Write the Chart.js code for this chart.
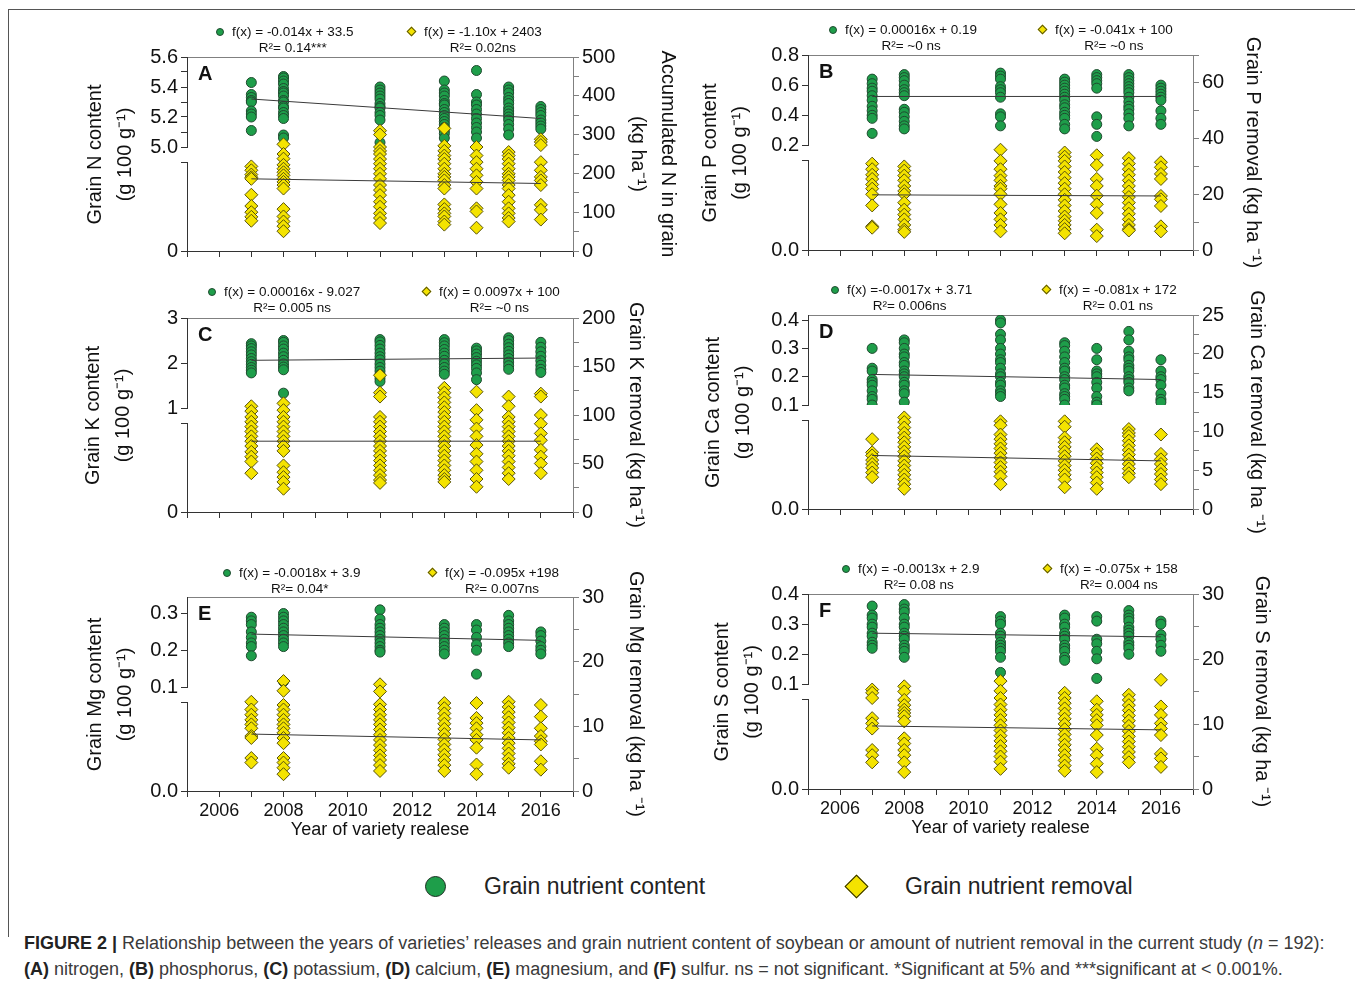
<!DOCTYPE html>
<html>
<head>
<meta charset="utf-8">
<script src="https://cdn.jsdelivr.net/npm/chart.js@4.4.1/dist/chart.umd.min.js"></script>
<style>
  body { margin: 0; background: #fff; width: 1355px; height: 988px; position: relative; overflow: hidden;
         font-family: "Liberation Sans", Arial, sans-serif; color: #111; }
  #frame { position: absolute; left: 8px; top: 9px; width: 1400px; height: 927px;
           border-top: 1px solid #555; border-left: 1px solid #555; }
  canvas { position: absolute; }
  .eq { position: absolute; font-size: 13.5px; line-height: 16px; white-space: nowrap; }
  .eq .txt { margin-left: 17px; text-align: center; }
  .eq .dot { position: absolute; left: 1px; top: 4px; width: 8px; height: 8px; border-radius: 50%;
             background: #1e9e4a; border: 1px solid #204a30; box-sizing: border-box; }
  .eq .dia { position: absolute; left: 1px; top: 4px; width: 7px; height: 7px; transform: rotate(45deg);
             background: #f4e300; border: 1px solid #57520a; box-sizing: border-box; }
  .letter { position: absolute; font-weight: bold; font-size: 20px; line-height: 24px; }
  #lgDot { position: absolute; left: 425px; top: 876px; width: 21px; height: 21px; border-radius: 50%;
           background: #1e9e4a; border: 1.5px solid #1c2e22; box-sizing: border-box; }
  #lgDia { position: absolute; left: 848px; top: 878px; width: 17px; height: 17px; transform: rotate(45deg);
           background: #f4e300; border: 1.5px solid #2b2900; box-sizing: border-box; }
  .lgText { position: absolute; font-size: 23px; line-height: 28px; color: #222; }
  #caption { position: absolute; left: 24px; top: 930px; width: 1325px; font-size: 18px; line-height: 26px;
             color: #3a3a3a; white-space: nowrap; }
  #caption b { color: #222; }
</style>
</head>
<body>
<div id="frame"></div>

<script>
// release years of the varieties
const years = [2007, 2008, 2011, 2013, 2014, 2015, 2016]
const trendYears = [2007, 2016]

// A: nitrogen
const nContent = [
    [5.43, 5.35, 5.33, 5.31, 5.30, 5.24, 5.22, 5.20, 5.11],
    [5.47, 5.46, 5.44, 5.42, 5.39, 5.37, 5.36, 5.34, 5.31, 5.30, 5.27, 5.26, 5.23, 5.21, 5.19, 5.08, 5.06],
    [5.40, 5.38, 5.36, 5.34, 5.32, 5.29, 5.27, 5.26, 5.23, 5.21, 5.18, 5.03],
    [5.44, 5.38, 5.36, 5.34, 5.31, 5.29, 5.28, 5.25, 5.23, 5.21, 5.19, 5.17, 5.15, 5.13, 5.11, 5.09, 5.06],
    [5.51, 5.35, 5.30, 5.28, 5.25, 5.22, 5.19, 5.16, 5.13, 5.10, 5.06],
    [5.40, 5.38, 5.36, 5.33, 5.31, 5.29, 5.26, 5.24, 5.22, 5.20, 5.18, 5.15, 5.12, 5.08],
    [5.27, 5.25, 5.23, 5.21, 5.18, 5.16, 5.14, 5.12],
]
const nRemoval = [
    [218, 208, 197, 190, 186, 145, 116, 100, 88, 78],
    [275, 250, 238, 222, 212, 203, 195, 186, 178, 170, 161, 108, 89, 76, 64, 51],
    [310, 300, 268, 258, 250, 237, 225, 212, 199, 186, 170, 157, 144, 127, 114, 97, 85, 72],
    [316, 271, 258, 246, 237, 225, 212, 199, 191, 182, 170, 161, 120, 108, 97, 89, 76, 68],
    [268, 246, 229, 212, 195, 178, 161, 110, 102, 60],
    [255, 246, 237, 225, 212, 199, 191, 182, 170, 161, 144, 127, 110, 97, 85, 76],
    [288, 281, 273, 229, 208, 191, 182, 170, 119, 106, 81],
]
const nContentTrend = [5.32, 5.19]
const nRemovalTrend = [186, 174]

// B: phosphorus
const pContent = [
    [0.64, 0.61, 0.58, 0.56, 0.53, 0.50, 0.46, 0.43, 0.40, 0.38, 0.28],
    [0.67, 0.65, 0.63, 0.60, 0.57, 0.55, 0.53, 0.44, 0.42, 0.39, 0.36, 0.33, 0.31],
    [0.68, 0.66, 0.64, 0.59, 0.57, 0.55, 0.52, 0.41, 0.39, 0.33],
    [0.64, 0.62, 0.60, 0.58, 0.56, 0.54, 0.52, 0.50, 0.47, 0.45, 0.42, 0.40, 0.38, 0.34, 0.31],
    [0.67, 0.65, 0.63, 0.61, 0.58, 0.39, 0.34, 0.26],
    [0.67, 0.65, 0.63, 0.61, 0.59, 0.57, 0.55, 0.52, 0.49, 0.46, 0.44, 0.41, 0.38, 0.33],
    [0.60, 0.58, 0.56, 0.54, 0.52, 0.50, 0.43, 0.38, 0.34],
]
const pRemoval = [
    [31, 29, 27, 25.5, 23.5, 22, 20, 16, 8.5, 8],
    [30, 28.5, 26.7, 25, 23, 21.2, 20, 17, 14.5, 12.7, 11, 9, 7.3, 6.5],
    [36, 32, 29, 26.7, 25, 23, 22, 20, 16.4, 13.3, 11, 9, 6.7],
    [35, 33.5, 32, 30, 28, 26, 24, 22, 20, 18, 16, 14, 12, 10.5, 9, 7.5, 6],
    [34, 30.5, 25.5, 23, 19.5, 16.4, 13.3, 7.3, 5],
    [33, 31, 29, 27, 25, 23, 21, 19, 17, 15, 13, 11, 9, 7.5, 7],
    [31.5, 29.7, 27.3, 25.5, 19.4, 18.2, 15.8, 8.5, 6.7],
]
const pContentTrend = [0.525, 0.525]
const pRemovalTrend = [19.8, 19.4]

// C: potassium
const kContent = [
    [2.43, 2.38, 2.32, 2.25, 2.18, 2.10, 2.03, 1.97, 1.90, 1.84, 1.78],
    [2.50, 2.46, 2.38, 2.31, 2.22, 2.14, 2.06, 1.98, 1.91, 1.85, 1.33],
    [2.52, 2.47, 2.39, 2.31, 2.22, 2.14, 2.07, 1.98, 1.90, 1.82, 1.74, 1.66, 1.59],
    [2.52, 2.45, 2.38, 2.30, 2.22, 2.15, 2.06, 1.98, 1.90, 1.82, 1.75],
    [2.33, 2.27, 2.20, 2.12, 2.04, 1.96, 1.88, 1.78, 1.63],
    [2.56, 2.50, 2.42, 2.34, 2.26, 2.18, 2.10, 2.02, 1.94, 1.86],
    [2.46, 2.35, 2.25, 2.15, 2.05, 1.95, 1.86, 1.79],
]
const kRemoval = [
    [109, 104, 98, 93, 88, 83, 78, 73, 68, 62, 57, 52, 40],
    [112, 105, 98, 93, 88, 83, 78, 73, 68, 63, 48, 41, 36, 31, 24],
    [141, 123, 119, 98, 93, 88, 83, 78, 73, 68, 63, 58, 53, 48, 43, 38, 33, 30],
    [128, 123, 118, 113, 108, 103, 98, 93, 88, 83, 78, 73, 68, 63, 58, 53, 48, 43, 38, 34, 31],
    [124, 105, 95, 86, 78, 69, 60, 52, 43, 34, 26],
    [119, 109, 98, 93, 88, 83, 78, 73, 68, 63, 58, 52, 46, 40, 34],
    [122, 119, 100, 91, 81, 74, 64, 57, 50, 40],
]
const kContentTrend = [2.06, 2.11]
const kRemovalTrend = [73, 73]

// D: calcium
const caContent = [
    [0.30, 0.23, 0.22, 0.19, 0.18, 0.17, 0.15, 0.13, 0.12, 0.10],
    [0.33, 0.32, 0.30, 0.28, 0.27, 0.25, 0.24, 0.22, 0.21, 0.20, 0.18, 0.17, 0.15, 0.14, 0.11],
    [0.40, 0.39, 0.35, 0.33, 0.30, 0.28, 0.26, 0.25, 0.23, 0.21, 0.20, 0.18, 0.17, 0.15, 0.14, 0.13],
    [0.32, 0.31, 0.29, 0.27, 0.25, 0.23, 0.22, 0.20, 0.19, 0.17, 0.16, 0.14, 0.13, 0.12, 0.10],
    [0.30, 0.26, 0.22, 0.21, 0.20, 0.18, 0.16, 0.13, 0.11, 0.10],
    [0.36, 0.33, 0.29, 0.27, 0.26, 0.24, 0.23, 0.22, 0.20, 0.19, 0.18, 0.16, 0.15],
    [0.26, 0.22, 0.20, 0.19, 0.17, 0.14, 0.12, 0.11],
]
const caRemoval = [
    [9.0, 7.3, 6.9, 6.3, 5.8, 5.3, 4.7, 4.1],
    [11.8, 11.2, 10.5, 9.8, 9.2, 8.6, 8.0, 7.4, 6.8, 6.2, 5.6, 5.0, 4.4, 3.8, 3.2, 2.6],
    [11.3, 10.8, 9.6, 9.0, 8.4, 7.8, 7.2, 6.6, 6.0, 5.4, 4.8, 4.2, 3.2],
    [11.3, 10.6, 9.2, 8.6, 8.0, 7.4, 6.8, 6.2, 5.6, 5.0, 4.4, 3.8, 2.8],
    [7.7, 7.1, 6.5, 5.9, 5.3, 4.7, 4.1, 3.4, 2.6],
    [10.3, 9.8, 9.4, 8.8, 8.2, 7.6, 7.0, 6.4, 5.8, 5.2, 4.6, 4.1],
    [9.6, 7.1, 6.4, 5.8, 5.1, 4.5, 3.8, 3.2],
]
const caContentTrend = [0.208, 0.19]
const caRemovalTrend = [6.9, 6.2]

// E: magnesium
const mgContent = [
    [0.29, 0.28, 0.27, 0.25, 0.235, 0.22, 0.21, 0.185],
    [0.30, 0.29, 0.28, 0.27, 0.26, 0.25, 0.24, 0.23, 0.22, 0.21, 0.115],
    [0.31, 0.285, 0.27, 0.26, 0.25, 0.24, 0.23, 0.22, 0.21, 0.20, 0.195],
    [0.27, 0.26, 0.25, 0.24, 0.23, 0.22, 0.21, 0.20, 0.19],
    [0.27, 0.255, 0.235, 0.215, 0.20, 0.135],
    [0.295, 0.28, 0.27, 0.26, 0.25, 0.24, 0.23, 0.22, 0.21],
    [0.25, 0.24, 0.225, 0.21, 0.20, 0.19],
]
const mgRemoval = [
    [13.8, 12.6, 11.8, 11.0, 10.3, 9.7, 8.5, 8.2, 5.1, 4.4],
    [17.0, 15.5, 13.3, 12.6, 11.8, 11.0, 10.3, 9.7, 9.0, 8.2, 7.4, 5.1, 4.4, 3.6, 2.6],
    [16.5, 15.4, 13.4, 12.6, 11.8, 11.0, 10.3, 9.5, 8.7, 7.9, 7.1, 6.3, 5.5, 4.8, 4.0, 3.1],
    [13.6, 12.8, 12.0, 11.2, 10.4, 9.6, 8.8, 8.0, 7.2, 6.4, 5.6, 4.8, 4.0, 3.1],
    [13.6, 11.3, 10.5, 9.7, 8.7, 7.9, 6.7, 4.1, 2.6],
    [13.8, 13.0, 12.2, 11.4, 10.6, 9.8, 9.0, 8.2, 7.4, 6.6, 5.8, 5.0, 4.2, 3.6],
    [13.3, 11.5, 9.7, 8.5, 7.7, 7.2, 4.6, 3.3],
]
const mgContentTrend = [0.244, 0.227]
const mgRemovalTrend = [8.8, 7.9]

// F: sulfur
const sContent = [
    [0.36, 0.33, 0.32, 0.30, 0.29, 0.27, 0.26, 0.24, 0.23, 0.22],
    [0.365, 0.35, 0.34, 0.32, 0.30, 0.29, 0.27, 0.26, 0.25, 0.23, 0.22, 0.21, 0.19],
    [0.325, 0.31, 0.30, 0.27, 0.26, 0.24, 0.23, 0.22, 0.21, 0.19, 0.14],
    [0.33, 0.32, 0.30, 0.29, 0.27, 0.26, 0.25, 0.23, 0.22, 0.21, 0.19, 0.18],
    [0.325, 0.31, 0.25, 0.235, 0.21, 0.185, 0.12],
    [0.345, 0.33, 0.32, 0.31, 0.29, 0.28, 0.27, 0.26, 0.24, 0.23, 0.22, 0.20],
    [0.31, 0.30, 0.265, 0.25, 0.23, 0.21],
]
const sRemoval = [
    [15.3, 14.8, 14.0, 10.9, 10.1, 9.3, 6.0, 5.2, 4.1],
    [15.8, 15.0, 13.7, 12.9, 12.2, 11.7, 11.2, 10.4, 7.8, 7.0, 6.0, 5.2, 4.1, 2.6],
    [16.6, 15.1, 14.0, 13.0, 12.2, 11.4, 10.6, 9.8, 9.0, 8.2, 7.4, 6.6, 5.8, 5.0, 4.2, 3.1],
    [14.8, 14.0, 13.2, 12.4, 11.6, 10.8, 10.0, 9.2, 8.4, 7.6, 6.8, 6.0, 5.2, 4.4, 3.6, 2.8],
    [13.5, 12.2, 11.4, 10.6, 9.8, 8.3, 6.2, 5.2, 3.9, 2.6],
    [14.5, 13.7, 12.9, 12.1, 11.3, 10.5, 9.7, 8.9, 8.1, 7.3, 6.5, 5.7, 4.9, 4.1],
    [16.8, 12.7, 11.4, 10.1, 9.3, 8.3, 5.4, 4.7, 3.4],
]
const sContentTrend = [0.27, 0.258]
const sRemovalTrend = [9.7, 9.1]

// equation labels above each panel
const eqContent = ['f(x) = -0.014x + 33.5', 'f(x) = 0.00016x + 0.19', 'f(x) = 0.00016x - 9.027',
                   'f(x) =-0.0017x + 3.71', 'f(x) = -0.0018x + 3.9', 'f(x) = -0.0013x + 2.9']
const r2Content = ['R²= 0.14***', 'R²= ~0 ns', 'R²= 0.005 ns', 'R²= 0.006ns', 'R²= 0.04*', 'R²= 0.08 ns']
const eqRemoval = ['f(x) = -1.10x + 2403', 'f(x) = -0.041x + 100', 'f(x) = 0.0097x + 100',
                   'f(x) = -0.081x + 172', 'f(x) = -0.095x +198', 'f(x) = -0.075x + 158']
const r2Removal = ['R²= 0.02ns', 'R²= ~0 ns', 'R²= ~0 ns', 'R²= 0.01 ns', 'R²= 0.007ns', 'R²= 0.004 ns']

const contentTitles = ['Grain N content', 'Grain P content', 'Grain K content',
                       'Grain Ca content', 'Grain Mg content', 'Grain S content']
const removalTitles = [['Accumulated N in grain', '(kg ha⁻¹)'], 'Grain P removal (kg ha ⁻¹)', 'Grain K removal (kg ha⁻¹)',
                       'Grain Ca removal (kg ha ⁻¹)', 'Grain Mg removal (kg ha ⁻¹)', 'Grain S removal (kg ha ⁻¹)']
const panelLetters = ['A', 'B', 'C', 'D', 'E', 'F']
const xTitle = 'Year of variety realese'

// upper (content) axis: min, max, tick step, label step, decimals
const upperAxes = [[5.0, 5.6, 0.1, 0.2, 1], [0.2, 0.8, 0.2, 0.2, 1], [1, 3, 1, 1, 0],
                   [0.1, 0.418, 0.1, 0.1, 1], [0.1, 0.345, 0.1, 0.1, 1], [0.1, 0.4, 0.1, 0.1, 1]]
const zeroLabels = ['0', '0.0', '0', '0.0', '0.0', '0.0']
// right (removal) axis: max, tick step, label step
const rightAxes = [[500, 50, 100], [70, 10, 20], [200, 25, 50], [25, 2.5, 5], [30, 5, 10], [30, 5, 10]]

const GREEN = '#1e9e4a'
const GREEN_EDGE = '#1f4a2f'
const YELLOW = '#f4e300'
const YELLOW_EDGE = '#57520a'
const TREND = '#3a3a3a'
const AXIS = '#333'
const AXIS_LIGHT = '#808080'

// page layout of each panel (canvas rect, plot area, title centres, equation marker spots)
const layouts = [
    {canvas: [20, 0, 670, 275], area: [187, 57, 573, 251], titleL: 95, titleR: 668, eq: [220, 32, 412, 32]},
    {canvas: [680, 0, 620, 275], area: [808, 55, 1193, 250], titleL: 710, titleR: 1253, eq: [833, 30, 1043, 30]},
    {canvas: [20, 280, 670, 255], area: [187, 318, 573, 512], titleL: 93, titleR: 636, eq: [212, 292, 427, 292]},
    {canvas: [680, 280, 620, 255], area: [808, 315, 1193, 509], titleL: 713, titleR: 1257, eq: [835, 290, 1047, 290]},
    {canvas: [20, 560, 670, 300], area: [187, 597, 573, 791], titleL: 95, titleR: 636, eq: [227, 573, 433, 573], xLabels: true},
    {canvas: [680, 560, 620, 300], area: [808, 594, 1193, 789], titleL: 722, titleR: 1262, eq: [846, 569, 1048, 569], xLabels: true},
]

const contents = [nContent, pContent, kContent, caContent, mgContent, sContent]
const removals = [nRemoval, pRemoval, kRemoval, caRemoval, mgRemoval, sRemoval]
const contentTrends = [nContentTrend, pContentTrend, kContentTrend, caContentTrend, mgContentTrend, sContentTrend]
const removalTrends = [nRemovalTrend, pRemovalTrend, kRemovalTrend, caRemovalTrend, mgRemovalTrend, sRemovalTrend]

function points(cols) {
    return years.flatMap((yr, i) => cols[i].map(v => ({x: yr, y: v})))
}

function trend(vals) {
    return trendYears.map((yr, i) => ({x: yr, y: vals[i]}))
}

function onStep(v, step) {
    var q = v / step
    return Math.abs(q - Math.round(q)) < 1e-6
}

function addEquation(x, y, text, r2, marker) {
    var div = document.createElement('div')
    div.className = 'eq'
    div.style.left = (x - 5) + 'px'
    div.style.top = (y - 8) + 'px'
    div.innerHTML = '<span class="' + marker + '"></span><div class="txt"><div>' + text + '</div><div>' + r2 + '</div></div>'
    document.body.appendChild(div)
}

function buildPanel(i) {
    var lay = layouts[i]
    var [cx, cy, cw, ch] = lay.canvas
    var [al, at, ar, ab] = lay.area
    var LW = 118
    var RW = cx + cw - ar
    var XH = lay.xLabels ? 60 : 10
    var [uMin, uMax, uStep, uLabel, uDec] = upperAxes[i]
    var [rMax, rStep, rLabel] = rightAxes[i]

    var canvas = document.createElement('canvas')
    canvas.width = cw
    canvas.height = ch
    canvas.style.left = cx + 'px'
    canvas.style.top = cy + 'px'
    document.body.appendChild(canvas)

    var tickFont = {size: 20}
    var titleFont = {size: 20, lineHeight: '30px'}
    var tickGrid = {drawOnChartArea: false, tickLength: 6, color: AXIS}

    new Chart(canvas, {
        type: 'scatter',
        data: {
            datasets: [
                {type: 'line', data: trend(contentTrends[i]), xAxisID: 'x', yAxisID: 'yU',
                 borderColor: TREND, borderWidth: 1, pointRadius: 0, fill: false},
                {type: 'line', data: trend(removalTrends[i]), xAxisID: 'x', yAxisID: 'yR',
                 borderColor: TREND, borderWidth: 1, pointRadius: 0, fill: false},
                {data: points(removals[i]), xAxisID: 'x', yAxisID: 'yR', pointStyle: 'rectRot', pointRadius: 6.5,
                 backgroundColor: YELLOW, borderColor: YELLOW_EDGE, borderWidth: 1},
                {data: points(contents[i]), xAxisID: 'x', yAxisID: 'yU', pointStyle: 'circle', pointRadius: 5,
                 backgroundColor: GREEN, borderColor: GREEN_EDGE, borderWidth: 1},
            ],
        },
        options: {
            responsive: false,
            animation: false,
            devicePixelRatio: 1,
            events: [],
            layout: {
                autoPadding: false,
                padding: {left: al - cx - LW, right: 0, top: at - cy, bottom: cy + ch - ab - XH},
            },
            plugins: {legend: {display: false}, tooltip: {enabled: false}},
            scales: {
                x: {
                    type: 'linear', position: 'bottom', min: 2005, max: 2017,
                    border: {color: AXIS}, grid: tickGrid,
                    ticks: {
                        stepSize: 1, autoSkip: false, maxRotation: 0, maxTicksLimit: 20, padding: 3,
                        font: {size: 18}, color: '#111',
                        callback: v => (lay.xLabels && v % 2 === 0 && v > 2005 && v < 2017) ? String(v) : '',
                    },
                    title: {display: !!lay.xLabels, text: xTitle, color: '#111',
                            font: {size: 18, lineHeight: '20px'}, padding: {top: 0, bottom: 11}},
                    afterFit: s => { s.height = XH },
                },
                xT: {
                    type: 'linear', position: 'top', min: 2005, max: 2017,
                    border: {color: AXIS_LIGHT}, grid: {display: false}, ticks: {display: false},
                    afterFit: s => { s.height = 0 },
                },
                yU: {
                    type: 'linear', position: 'left', stack: 'left', stackWeight: 90, weight: 3,
                    min: uMin, max: uMax,
                    border: {color: AXIS}, grid: tickGrid,
                    ticks: {
                        stepSize: uStep, includeBounds: false, autoSkip: false, maxTicksLimit: 20, padding: 3,
                        font: tickFont, color: '#111',
                        callback: v => onStep(v, uLabel) ? v.toFixed(uDec) : '',
                    },
                    afterFit: s => { s.width = LW },
                },
                yG: {
                    type: 'linear', position: 'left', stack: 'left', stackWeight: 15, weight: 2,
                    min: 0, max: 1,
                    border: {display: false}, grid: {display: false}, ticks: {display: false},
                    title: {display: true, text: [contentTitles[i], '(g 100 g⁻¹)'], font: titleFont, color: '#111',
                            padding: {top: lay.titleL - 15 - (al - LW), bottom: 0}},
                    afterFit: s => { s.width = LW },
                },
                yL: {
                    type: 'linear', position: 'left', stack: 'left', stackWeight: 89, weight: 1,
                    min: 0, max: 1,
                    border: {color: AXIS}, grid: tickGrid,
                    afterBuildTicks: s => { s.ticks = [{value: 0}, {value: 1}] },
                    ticks: {autoSkip: false, padding: 3, font: tickFont, color: '#111',
                            callback: v => v === 0 ? zeroLabels[i] : ''},
                    afterFit: s => { s.width = LW },
                },
                yR: {
                    type: 'linear', position: 'right', min: 0, max: rMax,
                    border: {color: AXIS_LIGHT},
                    grid: {drawOnChartArea: false, tickLength: 6, color: AXIS_LIGHT},
                    ticks: {
                        stepSize: rStep, autoSkip: false, maxTicksLimit: 20, padding: 3, font: tickFont, color: '#111',
                        callback: v => onStep(v, rLabel) ? String(v) : '',
                    },
                    title: {display: true, text: removalTitles[i], font: titleFont, color: '#111',
                            padding: {top: cx + cw - 15 - lay.titleR, bottom: 0}},
                    afterFit: s => { s.width = RW },
                },
            },
        },
    })

    // panel letter inside the plot
    var letter = document.createElement('div')
    letter.className = 'letter'
    letter.textContent = panelLetters[i]
    letter.style.left = (al + 11) + 'px'
    letter.style.top = (at + 4) + 'px'
    document.body.appendChild(letter)

    var [gx, gy, yx, yy] = lay.eq
    addEquation(gx, gy, eqContent[i], r2Content[i], 'dot')
    addEquation(yx, yy, eqRemoval[i], r2Removal[i], 'dia')
}

for (let i = 0; i < layouts.length; i++) {
    buildPanel(i)
}
</script>

<div id="lgDot"></div>
<div class="lgText" style="left:484px;top:872px">Grain nutrient content</div>
<div id="lgDia"></div>
<div class="lgText" style="left:905px;top:872px">Grain nutrient removal</div>

<div id="caption"><b>FIGURE 2 |</b> Relationship between the years of varieties’ releases and grain nutrient content of soybean or amount of nutrient removal in the current study (<i>n</i> = 192):<br><b>(A)</b> nitrogen, <b>(B)</b> phosphorus, <b>(C)</b> potassium, <b>(D)</b> calcium, <b>(E)</b> magnesium, and <b>(F)</b> sulfur. ns = not significant. *Significant at 5% and ***significant at &lt; 0.001%.</div>
</body>
</html>
